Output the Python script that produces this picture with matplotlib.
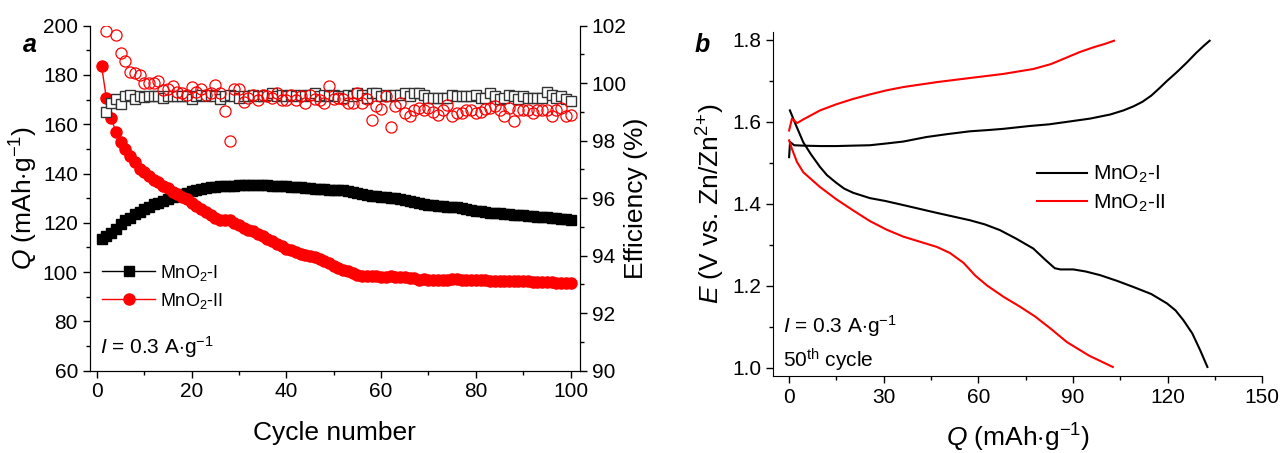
import numpy as np
import matplotlib
matplotlib.use("Agg")
from matplotlib import pyplot as plt
from matplotlib.ticker import MultipleLocator

plt.rcParams['font.family'] = ['Liberation Sans', 'DejaVu Sans']
plt.rcParams['mathtext.fontset'] = 'custom'
plt.rcParams['mathtext.rm'] = 'Liberation Sans'
plt.rcParams['mathtext.it'] = 'Liberation Sans:italic'
plt.rcParams['mathtext.bf'] = 'Liberation Sans:bold'

# ---- panel a: cycling data ----
cycles = np.arange(1, 101)
cap_I = [113.5, 114.5, 116, 117.5, 119.5, 121, 122, 123.5, 124.5, 125.5,
         126.5, 127.5, 128, 129, 129.8, 130.5, 131.2, 131.8, 132.3, 132.8,
         133.3, 133.8, 134.1, 134.4, 134.6, 134.8, 135, 135, 135.1, 135.2,
         135.2, 135.3, 135.3, 135.3, 135.2, 135.2, 135.1, 135, 134.9, 134.8,
         134.6, 134.5, 134.4, 134.2, 134.1, 133.9, 133.8, 133.6, 133.5, 133.4,
         133.3, 133.2, 133, 132.5, 132, 131.6, 131.3, 131, 130.8, 130.6,
         130.4, 130.2, 130, 129.6, 129.2, 128.8, 128.4, 128, 127.6, 127.3,
         127.1, 126.9, 126.8, 126.6, 126.5, 126.3, 126, 125.7, 125.4, 125,
         124.6, 124.3, 124.1, 123.9, 123.8, 123.6, 123.4, 123.3, 123.1, 123,
         122.8, 122.7, 122.5, 122.4, 122.2, 122, 121.8, 121.6, 121.4, 121.2]
cap_II = [183.5, 170.5, 162.5, 157, 153, 150, 147, 144.5, 142, 140.5,
          139, 137.5, 136.5, 135, 134, 132.5, 131.5, 130.5, 129.5, 128,
          127, 125.5, 124.5, 123, 122, 121, 121, 121, 120, 119,
          118, 117, 116.5, 115.5, 114.5, 113.5, 112.5, 111.5, 110.5, 109.5,
          109, 108, 107.5, 107, 106.5, 106, 105.5, 104.5, 103.5, 102.5,
          101.5, 101, 100.5, 99.5, 99, 98.5, 98.5, 98.5, 98.5, 98,
          98, 98.3, 98.2, 98, 98, 97.8, 97.5, 97, 97.2, 97,
          97, 97, 97, 97, 97.1, 97.1, 97, 97, 96.9, 96.9,
          96.8, 96.8, 96.5, 96.5, 96.4, 96.4, 96.4, 96.5, 96.4, 96.3,
          96.2, 96.1, 96, 96, 95.8, 95.8, 95.7, 95.7, 95.6, 95.5]

eff_cycles = np.arange(2, 101)
eff_I = [99.0, 99.32, 99.45, 99.28, 99.55, 99.6, 99.45, 99.55, 99.52, 99.55,
         99.55, 99.55, 99.5, 99.55, 99.55, 99.55, 99.55, 99.55, 99.45, 99.55,
         99.6, 99.55, 99.6, 99.55, 99.45, 99.55, 99.6, 99.55, 99.5, 99.55,
         99.55, 99.6, 99.55, 99.55, 99.6, 99.65, 99.55, 99.6, 99.55, 99.6,
         99.55, 99.6, 99.55, 99.6, 99.65, 99.55, 99.6, 99.55, 99.6, 99.55,
         99.5, 99.6, 99.55, 99.65, 99.6, 99.5, 99.65, 99.65, 99.55, 99.6,
         99.55, 99.6, 99.6, 99.65, 99.55, 99.65, 99.65, 99.6, 99.5, 99.5,
         99.5, 99.5, 99.5, 99.6, 99.55, 99.55, 99.55, 99.55, 99.6, 99.5,
         99.5, 99.65, 99.55, 99.45, 99.5, 99.6, 99.55, 99.45, 99.55, 99.5,
         99.5, 99.5, 99.5, 99.7, 99.6, 99.5, 99.55, 99.45, 99.38]
eff_II = [101.83, np.nan, 101.68, 101.04, 100.78, 100.38, 100.35, 100.3, 100.0, 100.0,
          100.0, 100.07, 99.75, 99.8, 99.9, 99.7, 99.65, 99.6, 99.85, 99.7,
          99.8, 99.6, 99.65, 99.95, 99.65, 99.04, 98.0, 99.8, 99.8, 99.35,
          99.5, 99.6, 99.4, 99.6, 99.55, 99.5, 99.65, 99.4, 99.4, 99.6,
          99.4, 99.55, 99.3, 99.6, 99.45, 99.4, 99.3, 99.9, 99.45, 99.5,
          99.45, 99.3, 99.3, 99.65, 99.3, 99.45, 98.72, 99.2, 99.1, 99.55,
          98.48, 99.2, 99.3, 98.95, 98.85, 99.05, 99.15, 99.05, 99.15, 99.0,
          98.9, 99.05, 99.25, 98.85, 98.95, 98.95, 99.05, 99.05, 98.95, 99.0,
          99.1, 99.15, 99.2, 99.05, 98.85, 99.15, 98.67, 99.05, 99.05, 99.05,
          98.95, 99.05, 99.05, 99.05, 98.85, 99.05, 99.15, 98.85, 98.9]

# ---- panel b: 50th cycle charge/discharge ----
chg_I_q = [0, 0.3, 1.6, 4.5, 10, 15, 20, 25.6, 30.5, 36.2, 43.5, 50, 57.3, 63, 67.9,
           76.3, 82.4, 88, 95.4, 101.8, 106, 109.2, 112, 114.8, 117.5, 119.8, 123,
           126.1, 129, 131.5, 133.3]
chg_I_e = [1.514, 1.551, 1.543, 1.542, 1.541, 1.541, 1.542, 1.543, 1.547, 1.552, 1.563,
           1.570, 1.577, 1.580, 1.583, 1.590, 1.594, 1.600, 1.608, 1.618, 1.628, 1.638,
           1.649, 1.664, 1.683, 1.700, 1.722, 1.745, 1.768, 1.786, 1.798]
dis_I_q = [0.25, 2, 4.5, 7, 9.8, 12, 15, 17.5, 20.3, 25.6, 30.5, 36.2, 46.8, 57.3, 62,
           66.8, 72, 77.4, 81, 84.2, 86, 90.1, 94, 98.6, 104, 109.2, 114.8, 119.8,
           122.5, 125, 127.8, 130.3, 132.6]
dis_I_e = [1.628, 1.595, 1.550, 1.520, 1.490, 1.470, 1.451, 1.437, 1.427, 1.414, 1.407,
           1.397, 1.378, 1.360, 1.350, 1.336, 1.315, 1.291, 1.265, 1.243, 1.240, 1.240,
           1.235, 1.226, 1.212, 1.197, 1.180, 1.157, 1.140, 1.116, 1.084, 1.043, 1.002]
chg_II_q = [0, 0.9, 2.5, 4.5, 9.8, 15, 20.3, 25.6, 30.9, 36.2, 46.8, 57.3, 67.9, 77.4,
            83, 88, 92, 96.5, 100, 103]
chg_II_e = [1.579, 1.608, 1.597, 1.606, 1.628, 1.643, 1.656, 1.667, 1.677, 1.685, 1.697,
            1.707, 1.717, 1.729, 1.741, 1.757, 1.770, 1.782, 1.790, 1.798]
dis_II_q = [0, 0.9, 2.5, 4.5, 9.8, 15, 20.3, 25.6, 30.9, 36.2, 46.8, 51, 55.3, 59, 62.7,
            68, 73, 78, 83, 88, 95, 102.6]
dis_II_e = [1.555, 1.534, 1.502, 1.477, 1.441, 1.411, 1.384, 1.358, 1.337, 1.320, 1.295,
            1.280, 1.256, 1.225, 1.201, 1.173, 1.150, 1.125, 1.095, 1.063, 1.030, 1.002]

mn1 = r'MnO$_2$-I'
mn2 = r'MnO$_2$-II'

fig = plt.figure(figsize=(12.81, 4.53), dpi=100)
ax1 = fig.add_axes([0.0701, 0.1817, 0.3827, 0.7616])
ax2 = ax1.twinx()
ax3 = fig.add_axes([0.6037, 0.17, 0.3817, 0.760])

# capacity
ax1.plot(cycles, cap_I, '-', color='black', marker='s', ms=7, lw=1, label=mn1, zorder=3)
ax1.plot(cycles, cap_II, '-', color='red', marker='o', ms=8, lw=1, label=mn2, zorder=3)
# efficiency
ax2.plot(eff_cycles, eff_I, ls='none', marker='s', ms=7, mfc='white', mec='#333333', mew=1)
ax2.plot(eff_cycles, eff_II, ls='none', marker='o', ms=8, mfc='none', mec='red', mew=0.9)

ax1.set_xlim(-1.5, 102)
ax1.set_ylim(60, 200)
ax2.set_ylim(90, 102)
ax1.xaxis.set_major_locator(MultipleLocator(20))
ax1.xaxis.set_minor_locator(MultipleLocator(10))
ax1.yaxis.set_major_locator(MultipleLocator(20))
ax1.yaxis.set_minor_locator(MultipleLocator(10))
ax2.yaxis.set_major_locator(MultipleLocator(2))
ax2.yaxis.set_minor_locator(MultipleLocator(1))

for ax in (ax1, ax2, ax3):
    ax.spines['top'].set_visible(False)
    ax.tick_params(which='major', direction='out', length=5, width=1, labelsize=15)
    ax.tick_params(which='minor', direction='out', length=3, width=1)
ax3.spines['right'].set_visible(False)

ax1.set_xlabel('Cycle number', fontsize=19, labelpad=14)
ax1.set_ylabel(r'$Q$ (mAh$\cdot$g$^{-1}$)', fontsize=19, labelpad=2)
ax2.set_ylabel('Efficiency (%)', fontsize=19, labelpad=-2)

ax1.legend(loc='upper left', bbox_to_anchor=(0.0, 0.35), frameon=False, fontsize=13,
           handlelength=2.9, handletextpad=0.3, labelspacing=0.45, borderaxespad=0.3)
ax1.text(0.02, 0.05, r'$I$ = 0.3 A$\cdot$g$^{-1}$', transform=ax1.transAxes, fontsize=15)
fig.text(0.018, 0.885, 'a', fontsize=18, fontweight='bold', style='italic')

# panel b
ax3.plot(chg_I_q, chg_I_e, color='black', lw=1.5, label=mn1)
ax3.plot(dis_I_q, dis_I_e, color='black', lw=1.5)
ax3.plot(chg_II_q, chg_II_e, color='red', lw=1.5, label=mn2)
ax3.plot(dis_II_q, dis_II_e, color='red', lw=1.5)
ax3.set_xlim(-5, 150)
ax3.set_ylim(0.98, 1.82)
ax3.xaxis.set_major_locator(MultipleLocator(30))
ax3.xaxis.set_minor_locator(MultipleLocator(15))
ax3.yaxis.set_major_locator(MultipleLocator(0.2))
ax3.yaxis.set_minor_locator(MultipleLocator(0.1))
ax3.set_xlabel(r'$Q$ (mAh$\cdot$g$^{-1}$)', fontsize=19, labelpad=11)
ax3.set_ylabel(r'$E$ (V vs. Zn/Zn$^{2}$$^{+}$)', fontsize=19, labelpad=4)
ax3.legend(loc='upper left', bbox_to_anchor=(0.5, 0.67), frameon=False, fontsize=15,
           handlelength=2.4, handletextpad=0.3, labelspacing=0.35)
ax3.text(0.02, 0.125, r'$I$ = 0.3 A$\cdot$g$^{-1}$', transform=ax3.transAxes, fontsize=15)
ax3.text(0.02, 0.025, r'50$^{\mathrm{th}}$ cycle', transform=ax3.transAxes, fontsize=15)
fig.text(0.542, 0.885, 'b', fontsize=18, fontweight='bold', style='italic')

fig.savefig('out.png', dpi=100)
